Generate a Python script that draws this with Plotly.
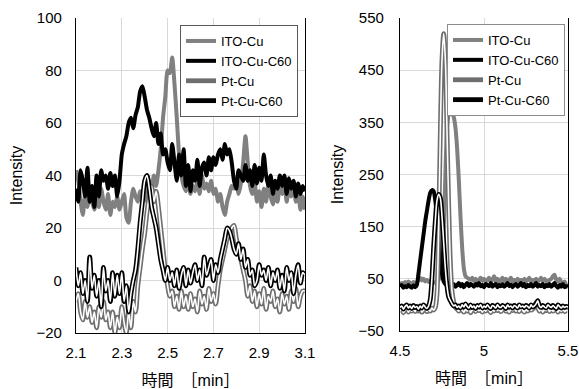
import plotly.graph_objects as go

# ---------------- data ----------------
x_left_start = 2.10
x_left_step = 0.01
ito_cu_L = [42, 38, 30, 25, 33, 28, 35, 30, 27, 32,
            28, 35, 30, 27, 33, 25, 30, 28, 32, 27,
            30, 33, 24, 22, 30, 35, 32, 30, 34, 32,
            36, 30, 38, 35, 40, 36, 42, 50, 62, 70,
            80, 79, 85, 75, 62, 48, 40, 36, 34, 38,
            33, 36, 34, 38, 33, 40, 35, 37, 34, 38,
            33, 35, 30, 33, 28, 25, 30, 33, 36, 35,
            38, 33, 37, 45, 55, 45, 36, 33, 38, 30,
            34, 28, 35, 30, 37, 32, 29, 34, 30, 36,
            33, 38, 30, 35, 32, 36, 30, 34, 27, 32,
            27]
ito_cu_c60_L = [35, 30, 42, 38, 32, 43, 30, 36, 28, 40,
                32, 42, 38, 40, 35, 41, 36, 40, 32, 38,
                48, 52, 55, 60, 62, 58, 63, 66, 72, 74,
                70, 65, 62, 58, 55, 60, 52, 56, 48, 50,
                45, 42, 52, 45, 38, 48, 40, 50, 36, 44,
                34, 42, 38, 46, 36, 43, 45, 40, 47, 42,
                47, 44, 48, 50, 46, 52, 48, 50, 45, 38,
                35, 42, 40, 38, 44, 38, 42, 36, 44, 37,
                43, 38, 48, 40, 36, 40, 33, 38, 35, 40,
                36, 40, 33, 39, 35, 38, 32, 37, 33, 36,
                34]
pt_cu_L = [-8, -5, -12, -15, -8, -14, -10, -16, -12, -18,
           -10, -14, -8, -15, -12, -18, -12, -20, -14, -18,
           -10, -16, -20, -12, -18, -8, -12, -2, 5, 12,
           18, 26, 32, 36, 30, 34, 28, 20, 12, 4,
           -2, -6, -4, -10, -6, -11, -4, -10, -6, -11,
           -5, -10, -7, -12, -4, -9, -6, -11, -3, -8,
           -5, -9, -2, 4, 8, 12, 16, 18, 20, 21,
           16, 12, 8, 4, 0, -6, -2, -8, -4, -10,
           -5, -9, -3, -11, -6, -8, -4, -10, -7, -12,
           -5, -9, -6, -11, -4, -8, -3, -10, -6, -4,
           -4]
pt_cu_c60_L = [5, -2, 3, -5, 0, -8, 9, -3, 2, -6,
               0, -10, 5, -4, 0, -8, 3, -6, 2, -5,
               3, -8, -2, -12, -5, 0, 4, 12, 22, 30,
               38, 40, 35, 28, 24, 20, 14, 8, 4, 0,
               5, 0, 3, -2, 4, -3, 2, 5, -2, 4,
               -1, 3, 6, 0, 4, -2, 9, 2, 5, 8,
               0, 6, 3, 8, 12, 16, 20, 19, 16, 12,
               10, 14, 8, 12, 5, 8, 2, 4, -2, 0,
               6, 2, 4, 0, 5, -2, 3, 0, 4, -3,
               2, -4, 5, 0, 3, -5, 2, 6, -1, 3,
               2]

x_right_start = 4.50
x_right_step = 0.01
ito_cu_R = [40, 42, 38, 44, 40, 45, 42, 40, 44, 41,
            43, 48, 52, 47, 50, 45, 48, 44, 46, 42,
            44, 42, 45, 48, 55, 75, 140, 250, 340, 365,
            372, 368, 360, 340, 300, 240, 170, 110, 70, 55,
            52, 50, 48, 52, 46, 50, 44, 48, 52, 46,
            50, 45, 48, 52, 44, 48, 55, 46, 50, 44,
            48, 52, 46, 50, 44, 48, 52, 45, 48, 44,
            50, 46, 48, 42, 50, 45, 48, 52, 44, 48,
            46, 50, 44, 48, 52, 45, 50, 46, 44, 48,
            50, 55, 58, 48, 45, 50, 44, 40, 45, 38,
            40]
ito_cu_c60_R = [35, 38, 33, 36, 34, 38, 35, 33, 37, 34,
                38, 60, 85, 110, 135, 160, 180, 200, 215, 220,
                218, 200, 170, 130, 90, 60, 45, 40, 38, 42,
                38, 36, 40, 35, 38, 42, 36, 40, 34, 38,
                42, 36, 40, 38, 35, 40, 37, 42, 36, 38,
                34, 40, 38, 36, 42, 35, 38, 40, 34, 38,
                36, 40, 35, 38, 42, 36, 39, 34, 38, 40,
                35, 38, 42, 36, 40, 34, 38, 36, 40, 35,
                38, 42, 35, 38, 36, 40, 34, 38, 36, 40,
                35, 38, 42, 36, 33, 38, 35, 40, 34, 36,
                35]
pt_cu_R = [-12, -8, -15, -10, -6, -14, -9, -12, -7, -13,
           -8, -12, -6, -14, -10, -8, -13, -9, -12, -6,
           -10, -5, 20, 150, 330, 470, 520, 470, 330, 190,
           80, 25, 5, -5, -8, -12, -6, -10, -14, -8,
           -12, -6, -15, -10, -8, -13, -7, -11, -9, -14,
           -8, -12, -6, -10, -15, -9, -12, -7, -11, -8,
           -13, -9, -6, -12, -10, -14, -8, -11, -6, -12,
           -9, -13, -7, -10, -14, -8, -12, -6, -10, -8,
           -4, 5, -5, -12, -8, -14, -9, -11, -6, -13,
           -8, -12, -10, -6, -14, -9, -12, -7, -13, -10,
           -12]
pt_cu_c60_R = [-5, -2, -8, -3, 0, -6, -2, -7, -1, -5,
               -3, -8, -2, -6, 0, -4, -7, -2, 10, 50,
               110, 160, 200, 212, 205, 170, 120, 70, 35, 15,
               8, 2, -2, 0, -5, -2, -6, 0, -4, 2,
               -3, -6, 0, -5, -2, -7, -1, -4, 0, -6,
               -2, -5, 0, -4, -7, -1, -3, -6, 0, -4,
               -5, -1, -3, -7, 0, -4, -2, -6, -1, -3,
               -6, 0, -4, -2, -5, -1, -3, -6, 0, -4,
               -2, 2, 8, -2, -5, -1, -4, -6, 0, -3,
               -5, -1, -4, -7, 0, -3, -6, -2, -5, -3,
               -4]

names = ["ITO-Cu", "ITO-Cu-C60", "Pt-Cu", "Pt-Cu-C60"]
left_ticks = [2.1, 2.3, 2.5, 2.7, 2.9, 3.1]
left_yticks = [-20, 0, 20, 40, 60, 80, 100]
right_ticks = [4.5, 5, 5.5]
right_yticks = [-50, 50, 150, 250, 350, 450, 550]

x_left = [round(x_left_start + i * x_left_step, 3) for i in range(len(ito_cu_L))]
x_right = [round(x_right_start + i * x_right_step, 3) for i in range(len(ito_cu_R))]

# ---------------- figure ----------------
fig = go.Figure()
FONT = "Liberation Sans, Arial, Noto Sans CJK JP, sans-serif"

styles = [
    dict(kind="solid", color="#808080"),
    dict(kind="solid", color="#000000"),
    dict(kind="double", color="#6e6e6e"),
    dict(kind="double", color="#000000"),
]

def add_series(xs, ys, name, style, xa, ya, legend):
    if style["kind"] == "solid":
        fig.add_trace(go.Scatter(x=xs, y=ys, mode="lines", name=name,
                                 line=dict(color=style["color"], width=4,
                                           shape="spline", smoothing=0.6),
                                 xaxis=xa, yaxis=ya, legend=legend))
    else:
        fig.add_trace(go.Scatter(x=xs, y=ys, mode="lines", name=name,
                                 line=dict(color=style["color"], width=4.8,
                                           shape="spline", smoothing=0.8),
                                 xaxis=xa, yaxis=ya, legend=legend))
        fig.add_trace(go.Scatter(x=xs, y=ys, mode="lines", name=name,
                                 line=dict(color="#ffffff", width=1.6,
                                           shape="spline", smoothing=0.8),
                                 xaxis=xa, yaxis=ya, showlegend=False,
                                 hoverinfo="skip"))

left_series = [ito_cu_L, ito_cu_c60_L, pt_cu_L, pt_cu_c60_L]
right_series = [ito_cu_R, ito_cu_c60_R, pt_cu_R, pt_cu_c60_R]
for n, ys, st in zip(names, left_series, styles):
    add_series(x_left, ys, n, st, "x", "y", "legend")
for n, ys, st in zip(names, right_series, styles):
    add_series(x_right, ys, n, st, "x2", "y2", "legend2")

W, H = 579, 389
def px_x(p): return p / W
def px_y(p): return 1 - p / H

grid = "#d9d9d9"
axis_common = dict(showgrid=True, gridcolor=grid, gridwidth=1, zeroline=False,
                   ticks="", tickfont=dict(family=FONT, size=15, color="#000"),
                   linecolor="#000", linewidth=1.3, showline=True, automargin=False)
title_font = dict(family=FONT, size=16, color="#000")

fig.update_layout(
    template="none",
    width=W, height=H, margin=dict(l=0, r=0, t=0, b=0),
    paper_bgcolor="white", plot_bgcolor="white",
    font=dict(family=FONT, color="#000"),
    xaxis=dict(domain=[px_x(76), px_x(305)], range=[2.1, 3.1], tickvals=left_ticks,
               ticktext=[str(v) for v in left_ticks], anchor="y", ticklabelstandoff=6,
               title=dict(text="時間　［min］", font=title_font, standoff=14),
               **axis_common),
    yaxis=dict(domain=[px_y(333), px_y(18)], range=[-20, 100], tickvals=left_yticks,
               anchor="x", mirror=True, ticklabelstandoff=10,
               title=dict(text="Intensity", font=title_font, standoff=9),
               **axis_common),
    xaxis2=dict(domain=[px_x(400), px_x(568)], range=[4.5, 5.5], tickvals=right_ticks,
                ticktext=[str(v) for v in right_ticks], anchor="y2", ticklabelstandoff=6,
                title=dict(text="時間　［min］", font=title_font, standoff=14),
                **axis_common),
    yaxis2=dict(domain=[px_y(331), px_y(18)], range=[-50, 550], tickvals=right_yticks,
                anchor="x2", mirror=True, ticklabelstandoff=12,
                title=dict(text="Intensity", font=title_font, standoff=10),
                **axis_common),
    legend=dict(x=px_x(180), y=px_y(25), xanchor="left", yanchor="top",
                bgcolor="white", bordercolor="#595959", borderwidth=1,
                font=dict(family=FONT, size=13, color="#000"),
                tracegroupgap=0, itemwidth=30),
    legend2=dict(x=px_x(447), y=px_y(24), xanchor="left", yanchor="top",
                 bgcolor="white", bordercolor="#8c8c8c", borderwidth=1,
                 font=dict(family=FONT, size=13, color="#000"),
                 tracegroupgap=0, itemwidth=30),
    showlegend=True,
)

fig.write_html("out.html", config={"displayModeBar": False},
               post_script="document.body.style.margin='0px';")
